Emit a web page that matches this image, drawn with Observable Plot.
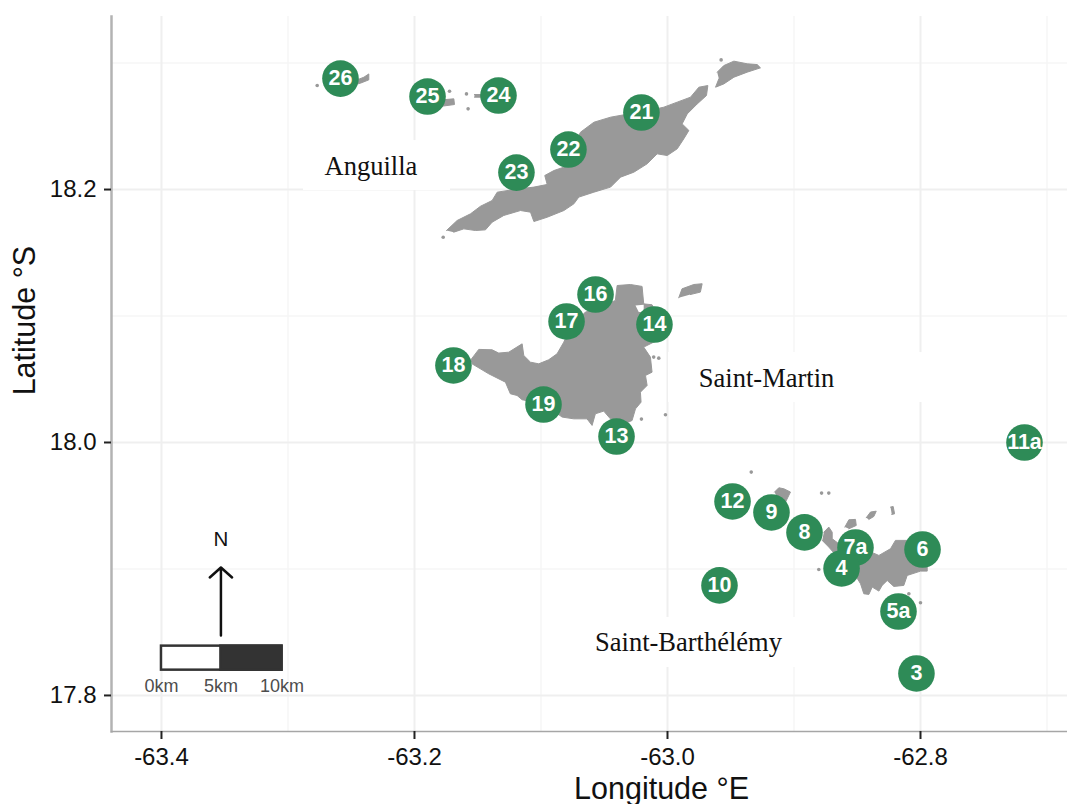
<!DOCTYPE html>
<html>
<head>
<meta charset="utf-8">
<script src="https://cdn.jsdelivr.net/npm/d3@7"></script>
<script src="https://cdn.jsdelivr.net/npm/@observablehq/plot@0.6"></script>
<style>html,body{margin:0;padding:0;background:#fff}svg{display:block}</style>
</head>
<body>
<div id="chart"></div>
<script>
// Sampling sites
const siteLabel = ["26","25","24","21","22","23","16","17","14","18","19","13","12","9","8","7a","4","6","10","5a","3","11a"];
const siteLon = [-63.2585,-63.1897,-63.1336,-63.0206,-63.0783,-63.1194,-63.0569,-63.0798,-63.0103,-63.1692,-63.0980,-63.0403,-62.9486,-62.9178,-62.8917,-62.8514,-62.8624,-62.7984,-62.9589,-62.8174,-62.8032,-62.7178];
const siteLat = [18.2877,18.2735,18.2743,18.2609,18.2316,18.2134,18.1170,18.0957,18.0933,18.0609,18.0300,18.0047,17.9534,17.9447,17.9289,17.9170,17.9004,17.9154,17.8870,17.8664,17.8174,18.0000];

// Island outlines, [longitude, latitude]
const anguilla = [[-63.1747,18.1676],[-63.1663,18.1755],[-63.1557,18.1808],[-63.1478,18.1868],[-63.1386,18.1913],[-63.1346,18.1979],[-63.1215,18.2000],[-63.1056,18.2019],[-63.0951,18.2040],[-63.0970,18.2111],[-63.0898,18.2150],[-63.0819,18.2177],[-63.0688,18.2453],[-63.0582,18.2532],[-63.0450,18.2572],[-63.0332,18.2593],[-63.0213,18.2611],[-63.0029,18.2651],[-62.9923,18.2691],[-62.9818,18.2730],[-62.9752,18.2809],[-62.9681,18.2822],[-62.9692,18.2743],[-62.9765,18.2677],[-62.9844,18.2598],[-62.9884,18.2519],[-62.9831,18.2467],[-62.9871,18.2401],[-62.9923,18.2322],[-63.0002,18.2269],[-63.0082,18.2282],[-63.0161,18.2203],[-63.0266,18.2137],[-63.0371,18.2098],[-63.0450,18.2019],[-63.0582,18.1979],[-63.0701,18.1940],[-63.0740,18.1887],[-63.0819,18.1834],[-63.0951,18.1781],[-63.1056,18.1747],[-63.1083,18.1821],[-63.1162,18.1834],[-63.1294,18.1795],[-63.1386,18.1742],[-63.1439,18.1681],[-63.1518,18.1676],[-63.1610,18.1689],[-63.1689,18.1663]];
const scrub = [[-62.9607,18.2928],[-62.9555,18.2980],[-62.9475,18.3015],[-62.9370,18.2994],[-62.9291,18.2988],[-62.9265,18.2962],[-62.9370,18.2928],[-62.9475,18.2888],[-62.9555,18.2835],[-62.9620,18.2809],[-62.9594,18.2875]];
const dogIsland = [[-63.2466,18.2862],[-63.2400,18.2888],[-63.2361,18.2914],[-63.2361,18.2867],[-63.2427,18.2841],[-63.2466,18.2830]];
const prickly = [[-63.1781,18.2709],[-63.1689,18.2717],[-63.1684,18.2672],[-63.1781,18.2659]];
const seal = [[-63.1526,18.2751],[-63.1452,18.2751],[-63.1452,18.2730],[-63.1526,18.2730]];
const saintMartin = [[-63.1558,18.0649],[-63.1492,18.0736],[-63.1387,18.0733],[-63.1334,18.0707],[-63.1255,18.0714],[-63.1149,18.0780],[-63.1136,18.0688],[-63.1083,18.0635],[-63.1018,18.0622],[-63.0939,18.0654],[-63.0873,18.0701],[-63.0820,18.0793],[-63.0767,18.0912],[-63.0649,18.1031],[-63.0556,18.1057],[-63.0412,18.1123],[-63.0398,18.1241],[-63.0293,18.1249],[-63.0201,18.1234],[-63.0188,18.1096],[-63.0122,18.1089],[-63.0056,18.0965],[-63.0082,18.0807],[-63.0188,18.0754],[-63.0135,18.0675],[-63.0122,18.0556],[-63.0174,18.0530],[-63.0161,18.0451],[-63.0214,18.0398],[-63.0209,18.0319],[-63.0253,18.0266],[-63.0280,18.0174],[-63.0398,18.0122],[-63.0451,18.0187],[-63.0504,18.0248],[-63.0570,18.0227],[-63.0596,18.0135],[-63.0636,18.0187],[-63.0741,18.0187],[-63.0833,18.0201],[-63.0978,18.0306],[-63.1149,18.0338],[-63.1189,18.0372],[-63.1242,18.0385],[-63.1281,18.0477],[-63.1413,18.0543],[-63.1545,18.0622]];
const tintamarre = [[-62.9911,18.1144],[-62.9885,18.1215],[-62.9792,18.1249],[-62.9726,18.1255],[-62.9740,18.1189],[-62.9819,18.1170]];
const saltPond = [[-63.0253,18.1083],[-63.0188,18.1089],[-63.0188,18.1031],[-63.0227,18.1031]];
const saintBarth = [[-62.8764,17.9291],[-62.8725,17.9331],[-62.8698,17.9291],[-62.8698,17.9239],[-62.8645,17.9199],[-62.8421,17.9147],[-62.8329,17.9107],[-62.8237,17.9160],[-62.8198,17.9226],[-62.8105,17.9226],[-62.7947,17.9015],[-62.7947,17.8983],[-62.8000,17.8983],[-62.8105,17.8949],[-62.8132,17.8870],[-62.8211,17.8862],[-62.8263,17.8909],[-62.8303,17.8870],[-62.8329,17.8825],[-62.8382,17.8857],[-62.8408,17.8799],[-62.8448,17.8804],[-62.8474,17.8883],[-62.8514,17.8949],[-62.8632,17.9067],[-62.8725,17.9173],[-62.8777,17.9226]];
const fourchue = [[-62.9154,17.9608],[-62.9120,17.9642],[-62.9080,17.9634],[-62.9028,17.9608],[-62.9067,17.9529],[-62.9133,17.9568]];
const fregate = [[-62.8598,17.9331],[-62.8566,17.9389],[-62.8514,17.9392],[-62.8508,17.9344],[-62.8566,17.9318]];
const toc = [[-62.8429,17.9405],[-62.8395,17.9450],[-62.8350,17.9457],[-62.8369,17.9415],[-62.8408,17.9392]];
const chevreau = [[-62.8237,17.9489],[-62.8216,17.9494],[-62.8205,17.9436],[-62.8227,17.9431]];
const landOutlines = {anguilla, scrub, dogIsland, prickly, seal, saintMartin, tintamarre, saintBarth, fourchue, fregate, toc, chevreau};

// Tiny islets
const isletLon = [-62.9576,-63.1773,-63.2769,-63.1723,-63.1589,-63.1576,-63.0109,-63.0069,-63.0206,-63.0016,-62.9338,-62.8782,-62.8725,-62.8804,-62.8092,-62.8000];
const isletLat = [18.3025,18.1623,18.2822,18.2777,18.2756,18.2638,18.0675,18.0667,18.0185,18.0219,17.9766,17.9600,17.9600,17.8996,17.8804,17.8733];

// Place names and the plain patches behind them
const placeName = ["Anguilla","Saint-Martin","Saint-Barthélémy"];
const placeLon = [-63.2344,-62.9217,-62.9834];
const placeLat = [18.2182,18.0506,17.8419];
const patchWest = [-63.2877,-62.9992,-63.0648];
const patchEast = [-63.1715,-62.7960,-62.8949];
const patchSouth = [18.1992,18.0316,17.8221];
const patchNorth = [18.2387,18.0711,17.8617];

// Scale bar and north arrow
const barLon = [-63.4,-63.353,-63.3047];
const barLat = [17.8200,17.8390];
const barText = ["0km","5km","10km"];
const barTextLat = 17.8071;
const arrowLat = [17.8474,17.9012];
const northLat = 17.9233;

const majorLon = [-63.4,-63.2,-63.0,-62.8];
const minorLon = [-63.3,-63.1,-62.9,-62.7];
const majorLat = [17.8,18.0,18.2];
const minorLat = [17.9,18.1,18.3];

const landRows = Object.entries(landOutlines).flatMap(([name, pts]) => pts.map(([lon,lat]) => ({name, lon, lat})));
const pondRows = saltPond.map(([lon,lat]) => ({lon, lat}));
const sites = siteLabel.map((label,i) => ({label, lon:siteLon[i], lat:siteLat[i]}));
const islets = isletLon.map((lon,i) => ({lon, lat:isletLat[i]}));
const places = placeName.map((name,i) => ({name, lon:placeLon[i], lat:placeLat[i], w:patchWest[i], e:patchEast[i], s:patchSouth[i], n:patchNorth[i]}));

const sans = "'Liberation Sans', Arial, sans-serif";
const serif = "'Liberation Serif', 'Times New Roman', serif";
const green = "#2E8B57";
const land = "#999999";

const chart = Plot.plot({
  width: 1067,
  height: 804,
  marginLeft: 111,
  marginRight: 0,
  marginTop: 16,
  marginBottom: 73,
  style: {background:"#fff", fontFamily:sans},
  x: {domain:[-63.4395,-62.6838]},
  y: {domain:[17.7715,18.3368]},
  marks: [
    Plot.ruleX(minorLon, {stroke:"#f6f6f6", strokeWidth:1.5}),
    Plot.ruleY(minorLat, {stroke:"#f6f6f6", strokeWidth:1.5}),
    Plot.ruleX(majorLon, {stroke:"#efefef", strokeWidth:2}),
    Plot.ruleY(majorLat, {stroke:"#efefef", strokeWidth:2}),
    Plot.rect(places, {x1:"w", x2:"e", y1:"s", y2:"n", fill:"#fff"}),
    Plot.line(landRows, {x:"lon", y:"lat", z:"name", fill:land, stroke:land, strokeWidth:1}),
    Plot.line(pondRows, {x:"lon", y:"lat", fill:"#fff", stroke:null}),
    Plot.dot(islets, {x:"lon", y:"lat", r:1.8, fill:land, stroke:null}),
    Plot.frame({anchor:"left", stroke:"#b3b3b3", strokeWidth:2.5}),
    Plot.frame({anchor:"bottom", stroke:"#a6a6a6", strokeWidth:1.5}),
    Plot.axisX({ticks:majorLon, tickFormat:d => d.toFixed(1), tickSize:8, tickPadding:8, fontSize:24, label:null, stroke:"#222", strokeWidth:2, fill:"#111"}),
    Plot.axisY({ticks:majorLat, tickFormat:d => d.toFixed(1), tickSize:7, tickPadding:8, fontSize:24, label:null, stroke:"#222", strokeWidth:2, fill:"#111"}),
    Plot.text(["Longitude °E"], {x:[-63.0047], frameAnchor:"bottom", dy:58, lineAnchor:"middle", fontSize:30.5, fill:"#111"}),
    Plot.text(["Latitude °S"], {y:[18.0964], frameAnchor:"left", dx:-86, rotate:-90, textAnchor:"middle", fontSize:30.5, fill:"#111"}),
    Plot.text(places, {x:"lon", y:"lat", text:"name", fontFamily:serif, fontSize:26.5, fill:"#111"}),
    Plot.rect([0], {x1:[barLon[0]], x2:[barLon[2]], y1:[barLat[0]], y2:[barLat[1]], fill:"#fff", stroke:"#333", strokeWidth:2.5}),
    Plot.rect([0], {x1:[barLon[1]], x2:[barLon[2]], y1:[barLat[0]], y2:[barLat[1]], fill:"#333", stroke:"#333", strokeWidth:2.5}),
    Plot.text(barText, {x:barLon, y:barLon.map(() => barTextLat), text:d => d, fontSize:18, fill:"#4d4d4d"}),
    Plot.arrow([0], {x1:[barLon[1]], x2:[barLon[1]], y1:[arrowLat[0]], y2:[arrowLat[1]], bend:0, stroke:"#111", strokeWidth:2.5, headAngle:96, headLength:9}),
    Plot.text(["N"], {x:[barLon[1]], y:[northLat], text:d => d, fontSize:20.5, fill:"#111"}),
    Plot.dot(sites, {x:"lon", y:"lat", r:18.3, fill:green, stroke:null}),
    Plot.text(sites, {x:"lon", y:"lat", text:"label", fill:"#fff", fontWeight:"bold", fontSize:21.5})
  ]
});
document.getElementById("chart").append(chart);
</script>
</body>
</html>
